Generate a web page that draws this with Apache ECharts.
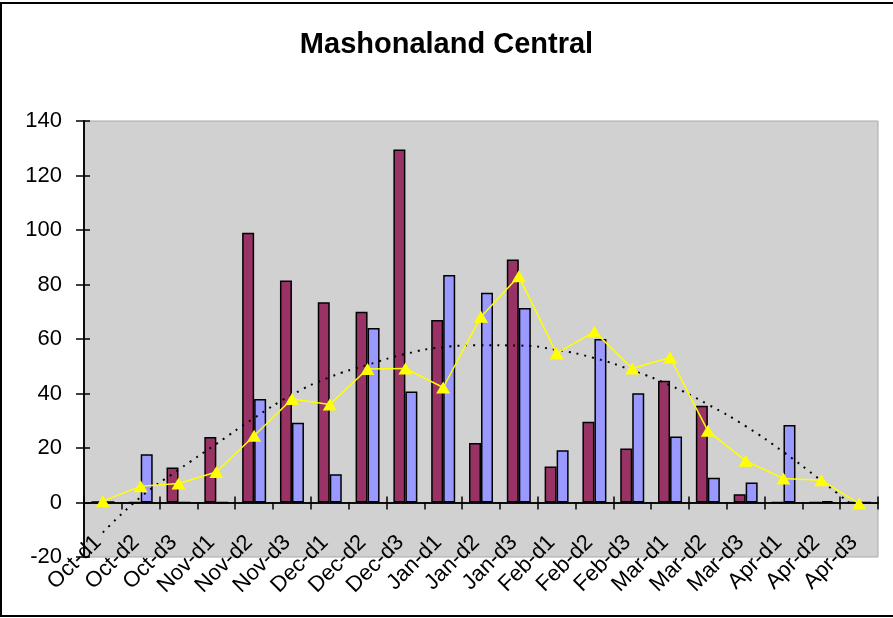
<!DOCTYPE html>
<html>
<head>
<meta charset="utf-8">
<title>Mashonaland Central</title>
<script src="https://cdn.jsdelivr.net/npm/echarts@6/dist/echarts.min.js"></script>
<style>
html, body { margin: 0; padding: 0; background: #fff; }
#chart { width: 893px; height: 618px; }
</style>
</head>
<body>
<div id="chart"></div>
<script>
var categories = ['Oct-d1', 'Oct-d2', 'Oct-d3', 'Nov-d1', 'Nov-d2', 'Nov-d3', 'Dec-d1', 'Dec-d2', 'Dec-d3',
    'Jan-d1', 'Jan-d2', 'Jan-d3', 'Feb-d1', 'Feb-d2', 'Feb-d3', 'Mar-d1', 'Mar-d2', 'Mar-d3',
    'Apr-d1', 'Apr-d2', 'Apr-d3'];
var maroonValues = [0.4, 0, 12.8, 24, 99, 81.5, 73.5, 70, 129.5, 67, 21.8, 89.2, 13.2, 29.6, 19.8, 44.7, 35.5, 3, 0, 0, 0];
var blueValues = [0.3, 17.7, 0, 0, 38, 29.3, 10.4, 64, 40.7, 83.5, 77, 71.4, 19.2, 60, 40.1, 24.2, 9.1, 7.3, 28.4, 0.5, 0];
var yellowValues = [0.5, 6, 7, 11.2, 24.5, 38, 36, 49, 49.2, 42.2, 68.2, 83, 54.7, 62.7, 49.2, 53.2, 26.3, 15.3, 8.8, 8.2, -0.4];
// dotted trend line at each category
var trendValues = [-11, 2, 12, 21.5, 31, 39.5, 46, 50.5, 54.5, 57, 57.7, 57.6, 56, 53, 48.5, 43, 36, 28, 18.5, 8, -3];
var yMin = -20, yMax = 140, yStep = 20;

var font = "'Liberation Sans', Arial, sans-serif";
var black = '#000';

var chart = echarts.init(document.getElementById('chart'));
var option = {
    backgroundColor: '#fff',
    animation: false,
    title: {
        text: 'Mashonaland Central',
        left: 'center',
        top: 25,
        textStyle: { fontFamily: font, fontSize: 29, fontWeight: 'bold', color: black }
    },
    graphic: [{
        // outer frame, right side runs off the canvas like the original
        type: 'rect',
        silent: true,
        shape: { x: 1, y: 3, width: 910, height: 613 },
        style: { fill: 'none', stroke: black, lineWidth: 2 }
    }],
    grid: {
        left: 84, right: 15, top: 121, bottom: 61,
        outerBoundsMode: 'none',
        containLabel: false,
        show: true,
        backgroundColor: '#d1d1d1',
        borderColor: '#a8a8a8',
        borderWidth: 1
    },
    xAxis: [
        {
            type: 'category',
            data: categories,
            boundaryGap: true,
            axisLine: { onZero: true, lineStyle: { color: black, width: 1.5 } },
            axisTick: { show: true, length: 7, lineStyle: { color: black, width: 1.5 } },
            axisLabel: {
                // labels sit near the zero line, like the original
                interval: 0, rotate: 45, margin: -23, padding: [0, 7, 0, 0],
                fontFamily: font, fontSize: 22, color: black
            },
            splitLine: { show: false }
        },
        {
            // second axis only to get the crossing tick marks
            type: 'category',
            data: categories,
            boundaryGap: true,
            position: 'bottom',
            axisLine: { onZero: true, lineStyle: { color: black, width: 1.5 } },
            axisTick: { show: true, inside: true, length: 6, lineStyle: { color: black, width: 1.5 } },
            axisLabel: { show: false },
            splitLine: { show: false }
        }
    ],
    yAxis: [
        {
            type: 'value',
            min: yMin, max: yMax, interval: yStep,
            axisLine: { show: true, lineStyle: { color: black, width: 1.5 } },
            axisTick: { show: true, length: 8, lineStyle: { color: black, width: 1.5 } },
            axisLabel: { margin: 22, fontFamily: font, fontSize: 22, color: black },
            splitLine: { show: false }
        },
        {
            type: 'value',
            min: yMin, max: yMax, interval: yStep,
            position: 'left',
            axisLine: { show: true, lineStyle: { color: black, width: 1.5 } },
            axisTick: { show: true, inside: true, length: 6, lineStyle: { color: black, width: 1.5 } },
            axisLabel: { show: false },
            splitLine: { show: false }
        }
    ],
    series: [
        {
            name: 'maroon',
            type: 'bar',
            data: maroonValues,
            barWidth: 12,
            barGap: '0%',
            itemStyle: { color: '#993366', borderColor: black, borderWidth: 1.5 }
        },
        {
            name: 'blue',
            type: 'bar',
            data: blueValues,
            barWidth: 12,
            barGap: '0%',
            itemStyle: { color: '#9999ff', borderColor: black, borderWidth: 1.5 }
        },
        {
            name: 'trend',
            type: 'line',
            data: trendValues,
            symbol: 'none',
            smooth: true,
            lineStyle: { color: black, width: 2, type: [2, 6] },
            z: 3
        },
        {
            name: 'yellow',
            type: 'line',
            data: yellowValues,
            symbol: 'triangle',
            symbolSize: [14, 12],
            lineStyle: { color: '#ffff00', width: 1.5 },
            itemStyle: { color: '#ffff00' },
            z: 4
        }
    ]
};
chart.setOption(option);
window.addEventListener('resize', function () {
    chart.resize();
});
</script>
</body>
</html>
